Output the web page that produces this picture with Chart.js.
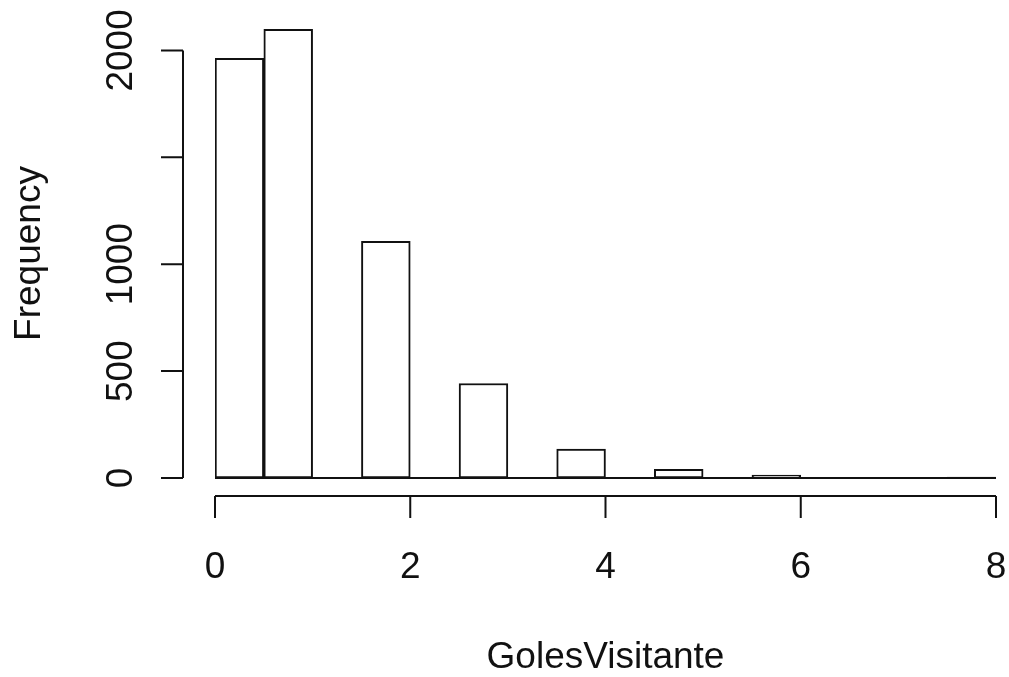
<!DOCTYPE html>
<html>
<head>
<meta charset="utf-8">
<script src="https://cdn.jsdelivr.net/npm/chart.js@4/dist/chart.umd.min.js"></script>
<style>
  html, body { margin: 0; padding: 0; background: #fff; }
  canvas { display: block; }
</style>
</head>
<body>
<canvas id="hist" width="1009" height="677"></canvas>
<script>
// bin centres (width 0.5) and counts
const binCenters = [0.25, 0.75, 1.25, 1.75, 2.25, 2.75, 3.25, 3.75, 4.25, 4.75, 5.25, 5.75, 6.25, 6.75, 7.25, 7.75];
const counts     = [1963, 2098, 0, 1107, 0, 442, 0, 135, 0, 40, 0, 14, 0, 2, 0, 4];

const xTicks      = [0, 2, 4, 6, 8];
const xTickLabels = ['0', '2', '4', '6', '8'];
const yTicks      = [0, 500, 1000, 1500, 2000];
const yTickLabels = ['0', '500', '1000', '', '2000'];

const xTitle = 'GolesVisitante';
const yTitle = 'Frequency';

const FONT = '37px "Liberation Sans", Arial, Helvetica, sans-serif';
const INK  = '#111';

// R style detached axes, drawn from the chart's own scales
const rAxes = {
    id: 'rAxes',
    afterDatasetsDraw(chart) {
        const { ctx, scales: { x, y } } = chart;
        const y0 = y.getPixelForValue(0);
        ctx.save();
        ctx.strokeStyle = INK;
        ctx.fillStyle = INK;
        ctx.lineWidth = 2;
        ctx.lineCap = 'butt';

        // baseline under the bars
        ctx.beginPath();
        ctx.moveTo(x.getPixelForValue(0), y0);
        ctx.lineTo(x.getPixelForValue(8), y0);
        ctx.stroke();

        // x axis
        const xAxisY = y0 + 18;
        ctx.beginPath();
        ctx.moveTo(x.getPixelForValue(xTicks[0]), xAxisY);
        ctx.lineTo(x.getPixelForValue(xTicks[xTicks.length - 1]), xAxisY);
        xTicks.forEach(v => {
            const px = x.getPixelForValue(v);
            ctx.moveTo(px, xAxisY);
            ctx.lineTo(px, xAxisY + 22);
        });
        ctx.stroke();

        ctx.font = FONT;
        ctx.textAlign = 'center';
        ctx.textBaseline = 'alphabetic';
        xTicks.forEach((v, i) => ctx.fillText(xTickLabels[i], x.getPixelForValue(v), 578));
        ctx.fillText(xTitle, (x.left + x.right) / 2, 668);

        // y axis
        const yAxisX = x.getPixelForValue(0) - 32;
        ctx.beginPath();
        ctx.moveTo(yAxisX, y.getPixelForValue(yTicks[0]));
        ctx.lineTo(yAxisX, y.getPixelForValue(yTicks[yTicks.length - 1]));
        yTicks.forEach(v => {
            const py = y.getPixelForValue(v);
            ctx.moveTo(yAxisX, py);
            ctx.lineTo(yAxisX - 22, py);
        });
        ctx.stroke();

        yTicks.forEach((v, i) => {
            if (!yTickLabels[i]) return;
            ctx.save();
            ctx.translate(132, y.getPixelForValue(v));
            ctx.rotate(-Math.PI / 2);
            ctx.fillText(yTickLabels[i], 0, 0);
            ctx.restore();
        });

        ctx.save();
        ctx.translate(40, (y.top + y.bottom) / 2);
        ctx.rotate(-Math.PI / 2);
        ctx.fillText(yTitle, 0, 0);
        ctx.restore();

        ctx.restore();
    }
};

new Chart(document.getElementById('hist').getContext('2d'), {
    type: 'bar',
    data: {
        datasets: [{
            label: yTitle,
            data: binCenters.map((c, i) => ({ x: c, y: counts[i] })),
            backgroundColor: '#fff',
            borderColor: INK,
            borderWidth: 2,
            borderSkipped: false,
            barPercentage: 1,
            categoryPercentage: 1,
        }]
    },
    options: {
        responsive: false,
        animation: false,
        layout: { padding: { left: 215, right: 13, top: 29, bottom: 199 } },
        plugins: {
            legend: { display: false },
            tooltip: { enabled: false },
        },
        scales: {
            x: { type: 'linear', min: 0, max: 8, offset: false, display: false },
            y: { type: 'linear', min: 0, max: 2100, display: false },
        }
    },
    plugins: [rAxes]
});
</script>
</body>
</html>
